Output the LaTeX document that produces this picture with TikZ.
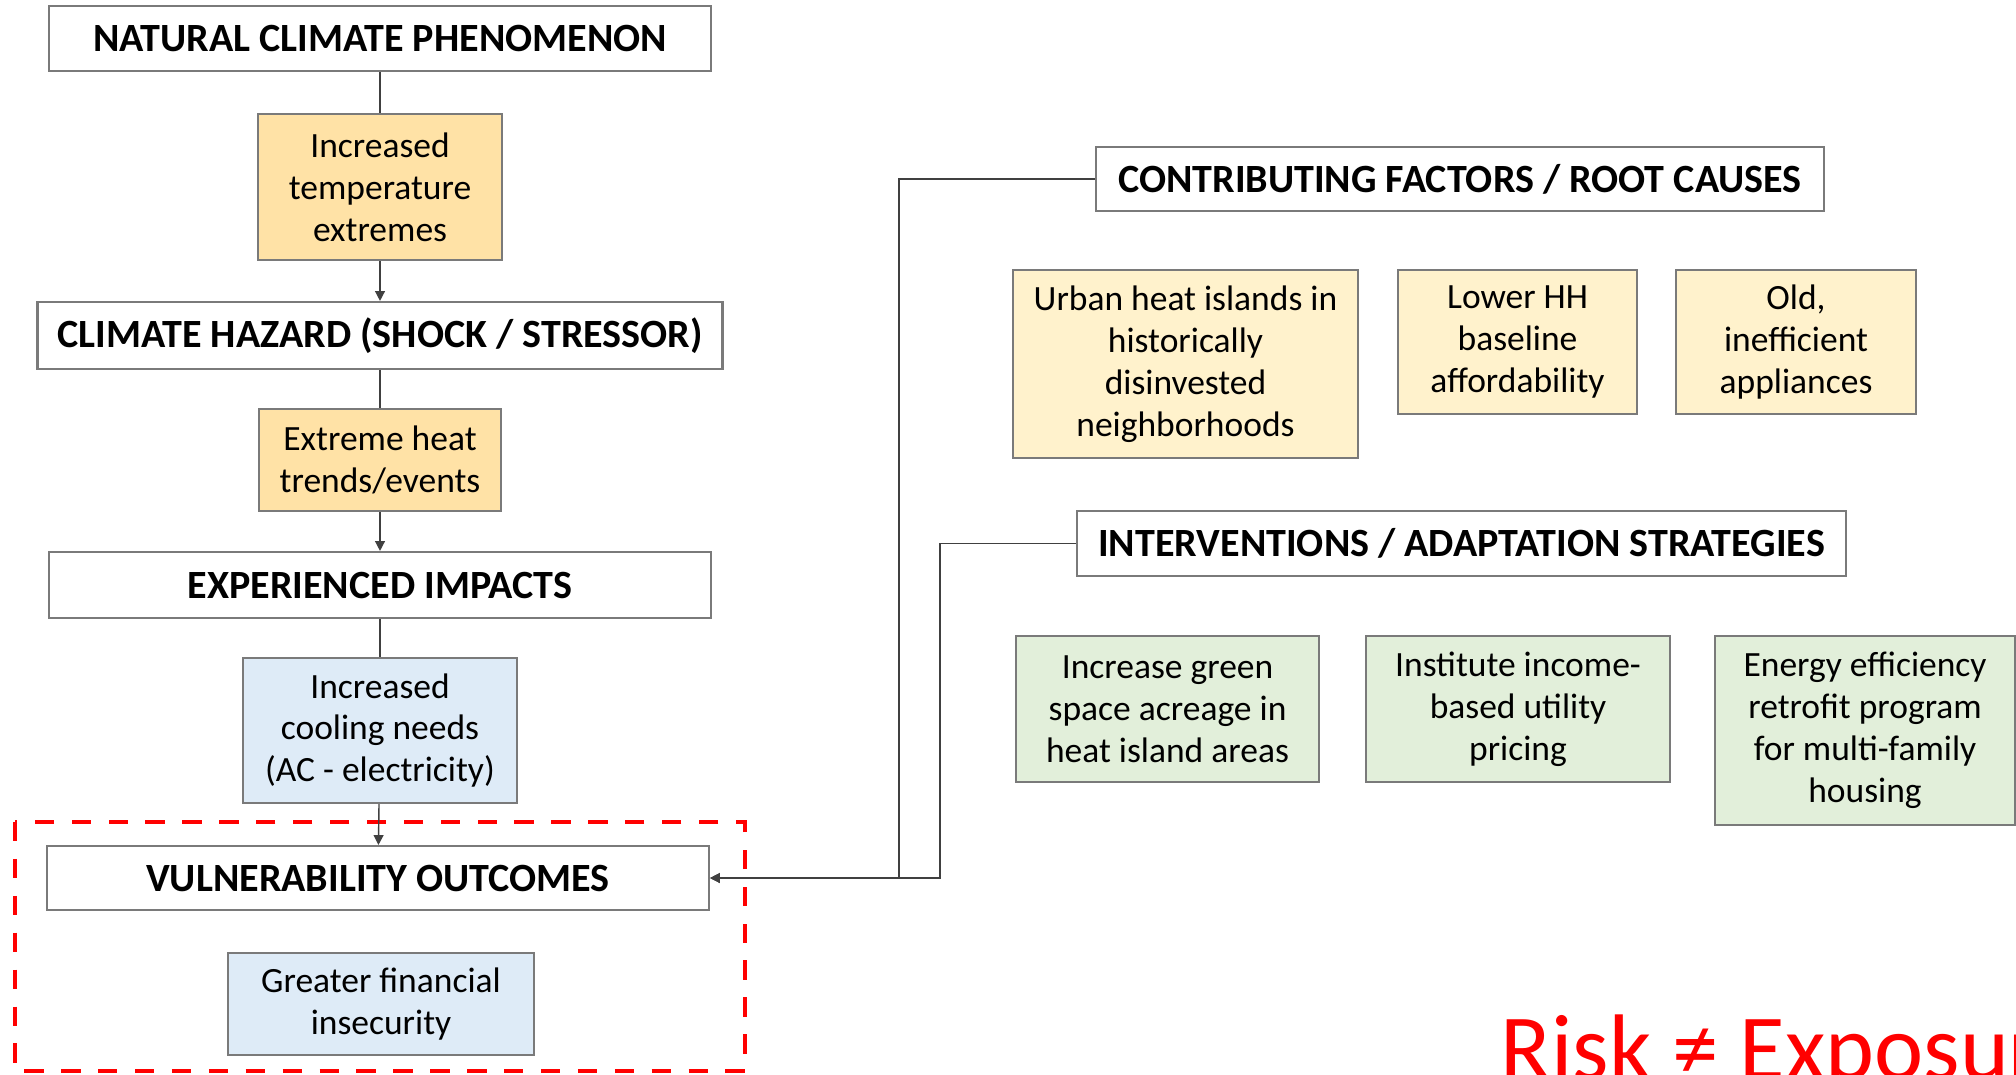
\documentclass[tikz,border=0pt]{standalone}
\usepackage{fontspec}
\setmainfont{Carlito}
\usepackage{tikz}
\usetikzlibrary{arrows.meta}
\definecolor{boxline}{HTML}{7A7A7A}
\definecolor{wire}{HTML}{404040}
\definecolor{hazfill}{HTML}{FFE2A6}
\definecolor{causefill}{HTML}{FFF2CC}
\definecolor{impfill}{HTML}{DEEBF7}
\definecolor{fixfill}{HTML}{E2EFDA}
\tikzstyle{es} = [-{Triangle[length=2.8pt,width=2.8pt]}]
\tikzstyle{head} = [draw=boxline, line width=0.6pt, fill=white, inner sep=0pt, font=\fontsize{11.4}{13.5}\selectfont\bfseries]
\tikzstyle{item} = [draw=boxline, line width=0.6pt, inner sep=0pt, align=center, font=\fontsize{10.1}{11.9}\selectfont]

\begin{document}
\begin{tikzpicture}
			\useasboundingbox (0,0) rectangle (20.16,-10.74);
			\clip (0,0) rectangle (20.16,-10.74);
			\draw [red, line width=1.4pt, dash pattern=on 5.5pt off 5pt] (0.15,-8.22) rectangle (7.45,-10.71);
			\node [head, minimum width=6.62cm, minimum height=0.65cm] (nat) at (3.80,-0.385) {NATURAL CLIMATE PHENOMENON};
			\node [item, fill=hazfill, minimum width=2.44cm, minimum height=1.46cm] (temp) at (3.80,-1.87) {Increased\\temperature\\extremes};
			\node [head, minimum width=6.85cm, minimum height=0.67cm] (haz) at (3.80,-3.355) {CLIMATE HAZARD (SHOCK / STRESSOR)};
			\node [item, fill=hazfill, minimum width=2.42cm, minimum height=1.02cm] (heat) at (3.80,-4.60) {Extreme heat\\trends/events};
			\node [head, minimum width=6.62cm, minimum height=0.66cm] (imp) at (3.80,-5.85) {EXPERIENCED IMPACTS};
			\node [item, fill=impfill, minimum width=2.74cm, minimum height=1.45cm] (cool) at (3.80,-7.305) {Increased\\cooling needs\\(AC - electricity)};
			\node [head, minimum width=6.62cm, minimum height=0.64cm] (vul) at (3.78,-8.78) {VULNERABILITY OUTCOMES};
			\node [item, fill=impfill, minimum width=3.06cm, minimum height=1.02cm] (fin) at (3.81,-10.04) {Greater financial\\insecurity};
			\draw [wire] (nat) -- (temp);
			\draw [wire, es] (temp) -- (haz);
			\draw [wire] (haz) -- (heat);
			\draw [wire, es] (heat) -- (imp);
			\draw [wire] (imp) -- (cool);
			\draw [wire, es] (cool) -- (vul);
			\node [head, minimum width=7.28cm, minimum height=0.64cm] (cf) at (14.60,-1.79) {CONTRIBUTING FACTORS / ROOT CAUSES};
			\node [item, fill=causefill, minimum width=3.45cm, minimum height=1.88cm] (urb) at (11.855,-3.64) {Urban heat islands in\\historically\\disinvested\\neighborhoods};
			\node [item, fill=causefill, minimum width=2.39cm, minimum height=1.44cm] (low) at (15.175,-3.42) {Lower HH\\baseline\\affordability};
			\node [item, fill=causefill, minimum width=2.40cm, minimum height=1.44cm] (old) at (17.96,-3.42) {Old,\\inefficient\\appliances};
			\node [head, minimum width=7.69cm, minimum height=0.65cm] (int) at (14.615,-5.435) {INTERVENTIONS / ADAPTATION STRATEGIES};
			\node [item, fill=fixfill, minimum width=3.03cm, minimum height=1.46cm] (grn) at (11.675,-7.09) {Increase green\\space acreage in\\heat island areas};
			\node [item, fill=fixfill, minimum width=3.04cm, minimum height=1.46cm] (pay) at (15.18,-7.09) {Institute income-\\based utility\\pricing};
			\node [item, fill=fixfill, minimum width=3.00cm, minimum height=1.89cm] (eff) at (18.65,-7.305) {Energy efficiency\\retrofit program\\for multi-family\\housing};
			\draw [wire, es] (cf.west) -- ++(-1.96,0) |- (vul.east);
			\draw [wire, es] (int.west) -- ++(-1.36,0) |- (vul.east);
			\node [anchor=base west, inner sep=0pt, text=red, font=\fontsize{26.5}{32}\selectfont] (risk) at (15.00,-10.79) {Risk ≠ Exposure};
		\end{tikzpicture}
\end{document}
